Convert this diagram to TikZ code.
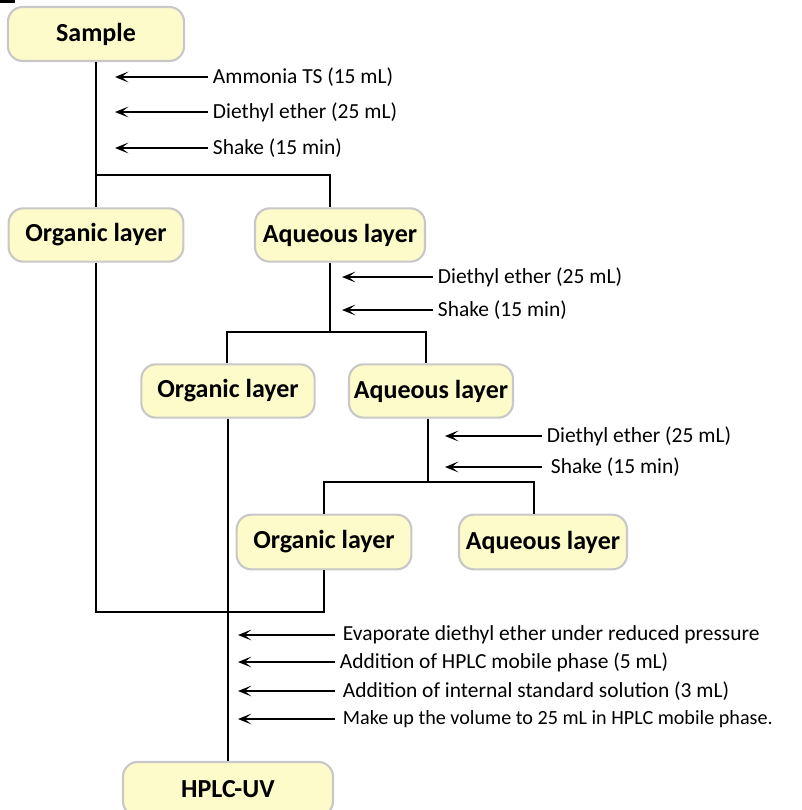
\documentclass[tikz,border=0pt]{standalone}
\usepackage{fontspec}
\setmainfont{Carlito}
\usepackage{tikz}
\usetikzlibrary{arrows.meta}
\definecolor{fondcouche}{RGB}{253,251,201}
\definecolor{bordcouche}{RGB}{200,200,200}
\tikzstyle{couche}=[
        rectangle,
        draw=bordcouche,
        line width=1.6pt,
        fill=fondcouche,
        rounded corners=11pt,
        inner sep=0pt,
        font=\fontsize{19.5}{23}\selectfont\bfseries
]
\tikzstyle{ajout}=[anchor=west,inner xsep=3.5pt,inner ysep=0pt,font=\fontsize{16.1}{19}\selectfont]
\tikzstyle{trait}=[line width=1.5pt]
\tikzstyle{suite}=[{Stealth[length=10pt,width=8pt,inset=5pt]}-,line width=1.9pt]

\begin{document}
\begin{tikzpicture}[x=0.75pt,y=-0.75pt]
\useasboundingbox (0,0) rectangle (802,810);
\draw[trait] (0,1.5) -- (15,1.5);
\node[couche,minimum width=132pt,minimum height=40.5pt] (sample) at (96,34) {Sample};
\node[couche,minimum width=131pt,minimum height=40pt] (org1) at (96,235) {Organic layer};
\node[couche,minimum width=127.5pt,minimum height=40pt] (aq1) at (340,235) {Aqueous layer};
\node[couche,minimum width=130pt,minimum height=40pt] (org2) at (228,391) {Organic layer};
\node[couche,minimum width=123pt,minimum height=40pt] (aq2) at (431,391) {Aqueous layer};
\node[couche,minimum width=131pt,minimum height=41pt] (org3) at (324,542) {Organic layer};
\node[couche,minimum width=126pt,minimum height=41pt] (aq3) at (543,542) {Aqueous layer};
\node[couche,minimum width=157.5pt,minimum height=40.5pt] (hplc) at (228,789) {HPLC-UV};
%branches
\coordinate (b1) at (330,175);
\coordinate (b2) at (330,332);
\coordinate (b2g) at (227,332);
\coordinate (b2d) at (426,332);
\coordinate (b3) at (428,482);
\coordinate (b3d) at (534,482);
\coordinate (m) at (324,612);
\draw[trait] (sample) -- (org1);
\draw[trait] (sample |- b1) -- (b1) -- (b1 |- aq1.north);
\draw[trait] (org1) |- (m) -- (org3);
\draw[trait] (b1 |- aq1.south) -- (b2);
\draw[trait] (b2g |- org2.north) -- (b2g) -- (b2d) -- (b2d |- aq2.north);
\draw[trait] (org2) -- (hplc);
\draw[trait] (b3 |- aq2.south) -- (b3);
\draw[trait] (org3) |- (b3d) -- (b3d |- aq3.north);
%ajouts
\coordinate (tA) at (115,0);
\coordinate (tB) at (342,0);
\coordinate (tC) at (445,0);
\coordinate (tD) at (238,0);
\node[ajout] (a1) at (208,77) {Ammonia TS (15 mL)};
\node[ajout] (a2) at (208,112) {Diethyl ether (25 mL)};
\node[ajout] (a3) at (208,148) {Shake (15 min)};
\node[ajout] (a4) at (433,277) {Diethyl ether (25 mL)};
\node[ajout] (a5) at (433,310) {Shake (15 min)};
\node[ajout] (a6) at (542,436) {Diethyl ether (25 mL)};
\node[ajout] (a7) at (546,467) {Shake (15 min)};
\node[ajout] (a8) at (338,635) {Evaporate diethyl ether under reduced pressure};
\node[ajout] (a9) at (335,662) {Addition of HPLC mobile phase (5 mL)};
\node[ajout] (a10) at (338,691) {Addition of internal standard solution (3 mL)};
\node[ajout,font=\fontsize{15.1}{18}\selectfont] (a11) at (338,719) {Make up the volume to 25 mL in HPLC mobile phase.};
\draw[suite] (tA |- a1) -- (a1.west);
\draw[suite] (tA |- a2) -- (a2.west);
\draw[suite] (tA |- a3) -- (a3.west);
\draw[suite] (tB |- a4) -- (a4.west);
\draw[suite] (tB |- a5) -- (a5.west);
\draw[suite] (tC |- a6) -- (a6.west);
\draw[suite] (tC |- a7) -- ([xshift=-3pt]a7.west);
\draw[suite] (tD |- a8) -- ([xshift=-2pt]a8.west);
\draw[suite] (tD |- a9) -- (a9.west);
\draw[suite] (tD |- a10) -- ([xshift=-2pt]a10.west);
\draw[suite] (tD |- a11) -- ([xshift=-2pt]a11.west);
\end{tikzpicture}
\end{document}
